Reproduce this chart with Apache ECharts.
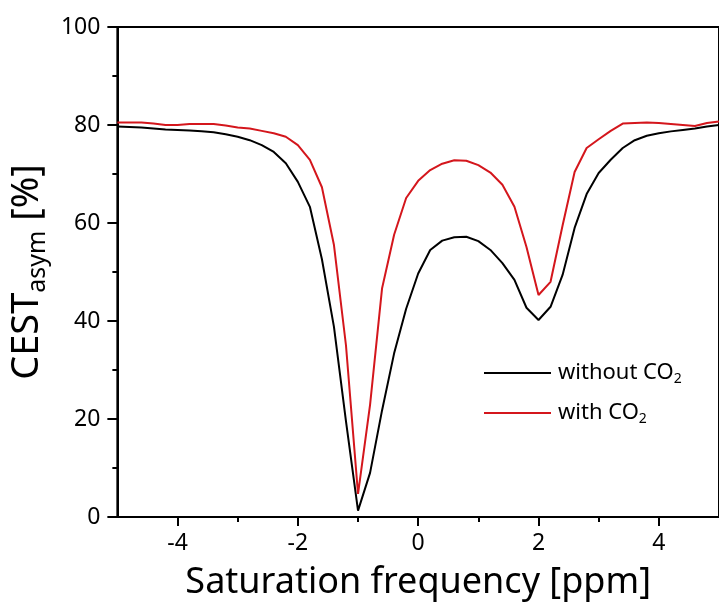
<!DOCTYPE html>
<html>
<head>
<meta charset="utf-8">
<script src="https://cdn.jsdelivr.net/npm/echarts@6/dist/echarts.min.js"></script>
<style>
  html, body { margin: 0; padding: 0; background: #fff; }
  #chart { width: 719px; height: 609px; }
</style>
</head>
<body>
<div id="chart"></div>
<script>
// saturation frequency [ppm]
const freq = [
  -5, -4.8, -4.6, -4.4, -4.2, -4, -3.8, -3.6, -3.4, -3.2, -3, -2.8, -2.6, -2.4, -2.2, -2,
  -1.8, -1.6, -1.4, -1.2, -1, -0.8, -0.6, -0.4, -0.2, 0, 0.2, 0.4, 0.6, 0.8, 1,
  1.2, 1.4, 1.6, 1.8, 2, 2.2, 2.4, 2.6, 2.8, 3, 3.2, 3.4, 3.6, 3.8, 4, 4.2, 4.4, 4.6, 4.8, 5
]
const withoutCO2 = [
  79.7, 79.6, 79.5, 79.3, 79.1, 79.0, 78.9, 78.7, 78.5, 78.1, 77.6, 76.9, 75.9, 74.5, 72.2, 68.4,
  63.3, 52.6, 38.8, 19.5, 1.3, 9.0, 21.8, 33.4, 42.5, 49.7, 54.5, 56.4, 57.1, 57.2, 56.3,
  54.5, 51.8, 48.4, 42.7, 40.2, 42.9, 49.4, 59.0, 65.9, 70.2, 72.9, 75.3, 76.9, 77.8, 78.3, 78.7, 79.0, 79.3, 79.7, 80.0
]
const withCO2 = [
  80.5, 80.5, 80.5, 80.3, 80.0, 80.0, 80.2, 80.2, 80.2, 79.9, 79.5, 79.3, 78.8, 78.3, 77.6, 75.9,
  72.9, 67.3, 55.5, 35.0, 4.7, 22.9, 46.7, 57.6, 65.1, 68.6, 70.8, 72.1, 72.8, 72.7, 71.8,
  70.3, 67.8, 63.3, 55.1, 45.3, 48.0, 59.5, 70.4, 75.3, 77.1, 78.8, 80.3, 80.4, 80.5, 80.4, 80.2, 80.0, 79.8, 80.4, 80.7
]
const majorTicks = [-4, -2, 0, 2, 4]
const minorTicks = [-3, -1, 1, 3]

const font = 'Noto Sans'
const chart = echarts.init(document.getElementById('chart'))

const axisLine = { show: true, onZero: false, lineStyle: { color: '#000', width: 2 } }

chart.setOption({
  animation: false,
  backgroundColor: '#fff',
  textStyle: { fontFamily: font, color: '#000' },
  grid: {
    left: 116, top: 27, right: -4, bottom: 92,
    show: true, borderColor: '#000', borderWidth: 2
  },
  legend: {
    orient: 'vertical',
    left: 484,
    top: 362,
    padding: 0,
    itemWidth: 67,
    itemHeight: 2,
    itemGap: 16,
    icon: 'rect',
    textStyle: {
      fontFamily: font,
      fontSize: 22,
      color: '#000',
      rich: {
        t: { fontFamily: font, fontSize: 22, lineHeight: 26, color: '#000', padding: [0, 0, 0, 2] },
        s: { fontFamily: font, fontSize: 14, lineHeight: 26, verticalAlign: 'bottom', color: '#000' }
      }
    },
    formatter: (name) => name === 'without' ? '{t|without CO}{s|2}' : '{t|with CO}{s|2}'
  },
  xAxis: [
    {
      type: 'value',
      min: -5,
      max: 5,
      axisLine,
      splitLine: { show: false },
      axisTick: { show: true, customValues: majorTicks, length: 9, lineStyle: { color: '#000', width: 2 } },
      axisLabel: { customValues: majorTicks, margin: 15, fontSize: 23, color: '#000', fontFamily: font },
      name: 'Saturation frequency [ppm]',
      nameLocation: 'middle',
      nameGap: 48,
      nameTextStyle: { fontSize: 36, fontFamily: font, color: '#000' }
    },
    {
      type: 'value',
      min: -5,
      max: 5,
      position: 'bottom',
      axisLine: { show: false },
      splitLine: { show: false },
      axisLabel: { show: false },
      axisTick: { show: true, customValues: minorTicks, length: 5, lineStyle: { color: '#000', width: 2 } }
    }
  ],
  yAxis: {
    type: 'value',
    min: 0,
    max: 100,
    interval: 20,
    axisLine,
    splitLine: { show: false },
    axisTick: { show: true, length: 10, lineStyle: { color: '#000', width: 2 } },
    minorTick: { show: true, splitNumber: 2, length: 5, lineStyle: { color: '#000', width: 2 } },
    axisLabel: { margin: 17, fontSize: 23, color: '#000', fontFamily: font },
    name: '{b|CEST}{s|asym}{b| [%]}',
    nameLocation: 'middle',
    nameGap: 60,
    nameTextStyle: {
      rich: {
        b: { fontSize: 38, lineHeight: 46, fontFamily: font, color: '#000' },
        s: { fontSize: 25, lineHeight: 32, verticalAlign: 'bottom', fontFamily: font, color: '#000' }
      }
    }
  },
  series: [
    {
      name: 'without',
      type: 'line',
      xAxisIndex: 0,
      data: freq.map((f, i) => [f, withoutCO2[i]]),
      showSymbol: false,
      lineStyle: { color: '#000', width: 2 },
      itemStyle: { color: '#000' }
    },
    {
      name: 'with',
      type: 'line',
      xAxisIndex: 0,
      data: freq.map((f, i) => [f, withCO2[i]]),
      showSymbol: false,
      lineStyle: { color: '#d4161c', width: 2 },
      itemStyle: { color: '#d4161c' }
    }
  ]
})
</script>
</body>
</html>
